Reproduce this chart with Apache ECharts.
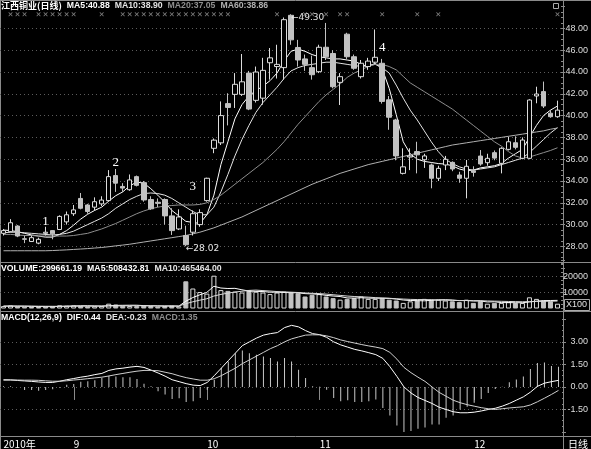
<!DOCTYPE html>
<html>
<head>
<meta charset="utf-8">
<script src="https://cdn.jsdelivr.net/npm/echarts@6/dist/echarts.min.js"></script>
<style>
html,body{margin:0;padding:0;background:#000;overflow:hidden;}
#chart{width:591px;height:449px;}
</style>
</head>
<body>
<div id="chart"></div>
<script>
// ---------------- data ----------------
const dates = ['2010-08-18','2010-08-19','2010-08-20','2010-08-23','2010-08-24','2010-08-25','2010-08-26','2010-08-27','2010-08-30','2010-08-31',
'2010-09-01','2010-09-02','2010-09-03','2010-09-06','2010-09-07','2010-09-08','2010-09-09','2010-09-10','2010-09-13','2010-09-14',
'2010-09-15','2010-09-16','2010-09-17','2010-09-20','2010-09-21','2010-09-27','2010-09-28','2010-09-29','2010-09-30','2010-10-08',
'2010-10-11','2010-10-12','2010-10-13','2010-10-14','2010-10-15','2010-10-18','2010-10-19','2010-10-20','2010-10-21','2010-10-22',
'2010-10-25','2010-10-26','2010-10-27','2010-10-28','2010-10-29','2010-11-01','2010-11-02','2010-11-03','2010-11-04','2010-11-05',
'2010-11-08','2010-11-09','2010-11-10','2010-11-11','2010-11-12','2010-11-15','2010-11-16','2010-11-17','2010-11-18','2010-11-19',
'2010-11-22','2010-11-23','2010-11-24','2010-11-25','2010-11-26','2010-11-29','2010-11-30','2010-12-01','2010-12-02','2010-12-03',
'2010-12-06','2010-12-07','2010-12-08','2010-12-09','2010-12-10','2010-12-13','2010-12-14','2010-12-15','2010-12-16','2010-12-17'];

const opens = [29.2,29.35,29.87,28.7,28.45,28.3,29.2,29.45,29.55,30.25, 31.0,32.4,31.8,31.6,31.9,32.2,34.5,33.5,33.2,34.4,
 33.85,32.3,32.05,32.3,30.8,29.6,29.0,29.3,30.0,32.2, 37.0,37.5,41.1,41.95,41.95,43.9,41.4,41.6,44.85,44.5,
 44.4,49.2,46.25,45.2,44.4,44.03,46.27,45.7,43.05,47.47, 45.4,43.57,44.5,44.9,44.8,41.45,39.6,34.7,36.2,36.7,
 35.95,35.47,34.25,35.47,35.71,34.55,34.25,34.94,36.29,35.68, 36.6,35.62,36.9,37.51,36.08,36.08,41.8,42.2,40.22,39.9];
const closes = [29.45,30.17,28.95,28.65,28.8,28.65,29.3,29.15,30.75,30.9, 31.35,31.5,31.2,32.1,32.25,34.4,33.8,33.35,34.1,33.6,
 32.26,31.45,31.95,30.8,29.45,30.7,28.15,31.0,31.1,34.25, 37.75,40.0,40.75,42.87,43.1,40.6,44.0,44.15,45.3,44.7,
 48.8,46.95,45.1,44.7,43.75,46.27,45.4,42.65,43.57,45.4, 44.34,44.8,45.0,45.35,41.3,39.85,36.3,35.3,36.3,36.4,
 36.3,34.25,35.16,35.99,35.1,34.25,35.35,34.79,35.56,36.08, 36.1,37.0,37.6,37.09,37.76,41.43,41.98,40.88,39.9,40.5];
const lows = [29.0,29.3,28.85,28.3,28.4,28.2,29.0,28.65,29.5,30.0, 30.8,31.4,31.0,31.3,31.7,32.1,33.0,33.0,33.1,33.5,
 32.1,31.35,31.6,30.0,29.05,29.5,28.02,29.0,29.8,32.1, 36.55,37.3,39.1,40.7,41.8,40.5,41.2,41.0,43.3,43.4,
 43.3,46.5,44.5,44.1,43.3,43.9,45.1,42.5,40.97,45.2, 44.2,43.4,44.2,44.7,41.1,38.7,35.9,34.6,35.0,34.7,
 35.2,33.33,34.0,35.0,34.9,33.84,32.41,34.4,35.4,35.4, 35.9,34.7,36.8,36.9,36.0,36.0,41.13,40.7,39.8,39.8];
const highs = [29.6,30.5,29.95,29.0,29.0,28.8,29.8,29.5,30.85,31.2, 31.8,32.9,31.9,32.5,32.6,35.0,35.1,33.8,34.6,34.5,
 34.0,32.6,32.4,32.4,31.5,31.4,29.9,31.3,31.4,34.3, 37.9,41.3,42.05,43.9,45.65,44.1,44.5,45.3,46.2,46.5,
 49.0,49.3,46.95,45.6,45.5,46.5,48.5,46.0,43.9,47.6, 45.6,45.1,45.3,47.9,45.2,41.8,39.7,37.0,37.0,37.6,
 36.5,35.6,35.4,36.3,35.8,34.85,35.93,35.35,36.84,36.5, 36.8,37.1,38.06,38.1,38.0,41.5,42.65,43.12,40.5,41.37];

const ma5 = [29.5,29.45,29.35,29.2,29.05,28.95,28.85,28.85,29.1,29.45, 29.95,30.5,30.95,31.3,31.6,32.15,32.65,33.0,33.55,33.9,
 33.8,33.3,32.7,32.05,31.3,30.8,30.3,30.2,30.1,30.9, 32.7,35.5,37.6,39.7,41.0,41.8,42.3,42.7,43.2,43.9,
 45.0,45.9,46.1,45.9,45.6,45.4,45.3,45.2,45.2,45.1, 45.0,44.7,44.5,44.8,44.3,42.5,40.1,37.6,36.5,36.0,
 35.8,35.7,35.6,35.55,35.4,35.1,34.95,35.0,35.2,35.3, 35.4,35.6,36.1,36.5,36.9,38.0,39.1,40.0,40.5,40.88];
const ma10 = [29.25,29.3,29.3,29.25,29.2,29.15,29.1,29.05,29.1,29.2, 29.4,29.7,30.0,30.3,30.6,31.0,31.5,31.9,32.3,32.6,
 32.85,32.9,32.85,32.7,32.4,32.0,31.6,31.2,30.9,30.9, 31.6,33.0,34.6,36.3,37.8,39.1,40.3,41.2,41.9,42.6,
 43.4,44.1,44.4,44.6,44.7,44.8,44.9,44.9,44.8,44.7, 44.6,44.5,44.6,44.7,44.4,43.9,42.8,41.6,40.5,39.6,
 38.6,37.6,36.7,36.0,35.6,35.3,35.1,35.0,35.1,35.2, 35.3,35.5,35.7,35.9,36.1,36.6,37.2,37.8,38.4,38.9];
const ma20 = [29.1,29.1,29.05,29.0,29.0,28.95,28.95,28.95,28.95,28.95, 29.0,29.1,29.2,29.4,29.6,29.85,30.1,30.4,30.7,31.0,
 31.25,31.45,31.6,31.7,31.75,31.8,31.8,31.8,31.85,32.0, 32.3,32.7,33.2,33.7,34.2,34.7,35.2,35.7,36.3,36.9,
 37.6,38.4,39.2,39.9,40.6,41.3,41.9,42.4,42.9,43.5, 43.9,44.2,44.5,44.7,44.7,44.5,44.2,43.6,43.0,42.6,
 42.2,41.8,41.4,41.0,40.6,40.1,39.6,39.1,38.6,38.1, 37.6,37.2,36.7,36.3,36.1,36.2,36.4,36.6,36.8,37.05];
const ma60 = [27.6,27.6,27.6,27.6,27.6,27.6,27.6,27.62,27.65,27.68, 27.72,27.76,27.8,27.85,27.9,27.97,28.05,28.12,28.2,28.3,
 28.4,28.5,28.6,28.7,28.8,28.9,29.0,29.15,29.3,29.5, 29.7,29.95,30.2,30.45,30.7,31.0,31.3,31.6,31.9,32.2,
 32.5,32.8,33.1,33.4,33.7,33.95,34.2,34.45,34.7,34.9, 35.1,35.3,35.5,35.65,35.8,35.95,36.1,36.25,36.4,36.55,
 36.7,36.85,37.0,37.15,37.3,37.4,37.5,37.6,37.7,37.8, 37.9,38.0,38.1,38.2,38.3,38.4,38.5,38.6,38.75,38.86];

const volumes = [150000,190000,130000,110000,100000,100000,110000,130000,200000,170000,
 190000,150000,130000,140000,150000,300000,250000,170000,160000,150000,
 180000,150000,120000,150000,170000,130000,1700000,1250000,1030000,930000,
 2050000,1150000,1100000,1050000,1000000,1150000,1050000,1000000,900000,1000000,
 1050000,1000000,950000,750000,850000,900000,750000,650000,550000,600000,
 650000,750000,600000,600000,650000,550000,500000,350000,450000,500000,
 600000,550000,550000,500000,450000,400000,550000,350000,450000,300000,
 350000,350000,400000,350000,350000,700000,600000,500000,450000,299661.19];
const volMa5 = [150000,155000,150000,145000,135000,125000,120000,115000,130000,145000,
 160000,170000,170000,160000,150000,175000,195000,200000,205000,205000,
 180000,165000,155000,150000,155000,145000,455000,685000,855000,1010000,
 1390000,1280000,1250000,1260000,1170000,1090000,1070000,1060000,1020000,1020000,
 1000000,990000,980000,930000,910000,890000,820000,780000,750000,660000,
 650000,670000,650000,640000,650000,630000,590000,530000,500000,490000,
 480000,510000,540000,550000,530000,490000,500000,470000,470000,410000,
 420000,370000,370000,360000,360000,410000,460000,490000,500000,508432.81];
const volMa10 = [145000,147000,148000,148000,146000,143000,140000,138000,137000,140000,
 142000,146000,148000,150000,152000,155000,160000,165000,168000,170000,
 172000,170000,168000,165000,162000,158000,300000,420000,520000,610000,
 780000,880000,960000,1030000,1080000,1130000,1150000,1120000,1090000,1060000,
 1040000,1020000,1000000,970000,950000,930000,900000,860000,820000,780000,
 750000,730000,710000,680000,650000,640000,610000,590000,570000,560000,
 560000,550000,530000,520000,510000,500000,500000,490000,490000,470000,
 460000,450000,440000,430000,420000,430000,440000,450000,455000,465464.00];

const dif = [0.48,0.47,0.43,0.4,0.37,0.33,0.3,0.3,0.38,0.48, 0.56,0.65,0.72,0.82,0.9,1.1,1.2,1.25,1.32,1.37,
 1.3,1.12,0.93,0.72,0.48,0.35,0.22,0.12,0.09,0.3, 0.75,1.25,1.75,2.25,2.75,3.0,3.25,3.45,3.55,3.62,
 3.95,4.1,4.0,3.75,3.55,3.48,3.3,3.0,2.8,2.65, 2.5,2.4,2.28,2.15,1.9,1.35,0.7,0.0,-0.4,-0.7,
 -0.9,-1.1,-1.35,-1.5,-1.65,-1.72,-1.72,-1.68,-1.6,-1.5, -1.42,-1.28,-1.1,-0.88,-0.66,-0.35,0.04,0.25,0.35,0.44];
const dea = [0.45,0.46,0.46,0.45,0.45,0.44,0.41,0.38,0.38,0.41, 0.46,0.5,0.55,0.6,0.65,0.73,0.82,0.9,0.98,1.05,
 1.1,1.1,1.08,0.98,0.88,0.74,0.62,0.53,0.45,0.45, 0.55,0.75,1.0,1.25,1.55,1.8,2.05,2.3,2.55,2.75,
 3.0,3.2,3.33,3.45,3.47,3.47,3.4,3.28,3.13,3.02, 2.92,2.82,2.73,2.65,2.55,2.3,1.85,1.3,0.95,0.65,
 0.37,0.0,-0.36,-0.62,-0.88,-1.05,-1.18,-1.28,-1.38,-1.45, -1.5,-1.45,-1.4,-1.36,-1.32,-1.2,-0.99,-0.75,-0.5,-0.23];
const macdHist = [0.05,0.05,0.0,-0.2,-0.2,-0.25,-0.2,-0.15,-0.05,0.15, 0.2,0.35,0.38,0.45,0.6,0.75,0.7,0.65,0.65,0.53,
 0.22,0.05,-0.29,-0.5,-0.8,-0.75,-1.0,-0.95,-0.73,-0.18, 0.48,1.26,1.7,2.25,2.43,2.25,2.14,2.03,1.92,1.7,
 1.92,1.7,1.15,0.6,0.05,0.02,-0.18,-0.73,-0.95,-0.88, -1.0,-1.0,-0.95,-0.84,-1.4,-1.9,-2.56,-3.0,-2.94,-2.78,
 -2.7,-2.5,-2.5,-2.05,-1.9,-1.5,-1.32,-1.06,-0.8,-0.4, -0.13,0.02,0.31,0.49,0.7,1.2,1.6,1.63,1.4,1.35];

// signal marks (trading-day indices) drawn on the top row of the price panel
const signalDays = [1,2,3,5,6,7,8,9,10,14,17,18,19,20,21,22,23,24,25,26,27,28,29,30,31,32,39,43,44,46,48,49,54,59,62,79];
const signalLevel = 49.3;
// wave annotations: [day index, price, text]
const waveLabels = [[6, 30.3, '1'], [16, 35.7, '2'], [27, 33.5, '3'], [54, 46.2, '4']];

const priceTicks = {min: 26, max: 50, step: 2};
const volTicks = {min: 0, max: 3000000, step: 1000000};
const macdTicks = {min: -3, max: 4.5, step: 1.5};

// ---------------- style ----------------
const FONT = '"Liberation Sans", Arial, sans-serif';
const CJK = '"Noto Sans CJK SC", "Liberation Sans", sans-serif';
const FRAME = '#8a8a8a';
const GRIDC = '#5c5c5c';
const UP = '#dcdcdc';
const DOWN = '#c2c2c2';
const COL = {ma5:'#ffffff', ma10:'#e4e4e4', ma20:'#8e8e8e', ma60:'#b0b0b0'};
const PLOT_W = 563;
const HF = 8.7;

const last = a => a[a.length - 1];
const monthStart = dates.map((d, i) => i === 0 || d.slice(5, 7) !== dates[i - 1].slice(5, 7));

let hiIdx = 0, loIdx = 0;
highs.forEach((v, i) => { if (v > highs[hiIdx]) hiIdx = i; });
lows.forEach((v, i) => { if (v < lows[loIdx]) loIdx = i; });

const candleData = dates.map((d, i) => [opens[i], closes[i], lows[i], highs[i]]);
const volData = volumes.map((v, i) => ({
  value: v,
  itemStyle: closes[i] >= opens[i]
    ? {color: '#000', borderColor: UP, borderWidth: 1}
    : {color: DOWN, borderColor: DOWN, borderWidth: 1}
}));

function yAxisCommon(grid, t, fmt, margin) {
  return {
    type: 'value', gridIndex: grid, position: 'right',
    min: t.min, max: t.max, interval: t.step,
    axisLine: {show: false},
    axisTick: {show: true, length: 4, lineStyle: {color: FRAME}},
    minorTick: {show: true, splitNumber: 4, length: 2, lineStyle: {color: FRAME}},
    axisLabel: {show: true, formatter: fmt, showMinLabel: false, showMaxLabel: false,
      align: 'right', margin: margin, fontSize: 9, color: '#dedede', fontFamily: FONT},
    splitLine: {show: true, showMinLine: false, showMaxLine: false,
      lineStyle: {color: GRIDC, type: [1, 3], width: 1}},
    minorSplitLine: {show: false}
  };
}

function hiddenX(grid) {
  return {type: 'category', gridIndex: grid, data: dates, boundaryGap: true,
    axisLine: {show: false}, axisTick: {show: false}, axisLabel: {show: false}, splitLine: {show: false}};
}

function lineSeries(name, data, color, xi, yi) {
  return {name: name, type: 'line', data: data, xAxisIndex: xi, yAxisIndex: yi,
    showSymbol: false, symbol: 'none', smooth: false,
    lineStyle: {color: color, width: 1}, z: 3, silent: true};
}

const xPath = 'path://M0,0L1.5,0L5,3.5L8.5,0L10,0L10,1.5L6.5,5L10,8.5L10,10L8.5,10L5,6.5L1.5,10L0,10L0,8.5L3.5,5L0,1.5Z';

const option = {
  animation: false,
  backgroundColor: '#000',
  textStyle: {fontFamily: FONT},
  title: [
    {left: 1, top: 0, padding: 0, z: 1,
     text: '{c|江西铜业(日线)} {w|MA5:' + last(ma5).toFixed(2) + '} {a|MA10:' + last(ma10).toFixed(2) + '} {b|MA20:' + last(ma20).toFixed(2) + '} {d|MA60:' + last(ma60).toFixed(2) + '}',
     textStyle: {lineHeight: 11, rich: {
       c: {fontFamily: CJK, fontSize: 9, color: '#ffffff', lineHeight: 11},
       w: {fontFamily: FONT, fontSize: HF, color: COL.ma5, lineHeight: 11},
       a: {fontFamily: FONT, fontSize: HF, color: COL.ma10, lineHeight: 11},
       b: {fontFamily: FONT, fontSize: HF, color: COL.ma20, lineHeight: 11},
       d: {fontFamily: FONT, fontSize: HF, color: COL.ma60, lineHeight: 11}}}},
    {left: 1, top: 263, padding: 0, z: 1,
     text: '{w|VOLUME:' + last(volumes).toFixed(2) + '} {w|MA5:' + last(volMa5).toFixed(2) + '} {a|MA10:' + last(volMa10).toFixed(2) + '}',
     textStyle: {lineHeight: 11, rich: {
       w: {fontFamily: FONT, fontSize: HF, color: '#ffffff', lineHeight: 11},
       a: {fontFamily: FONT, fontSize: HF, color: '#e4e4e4', lineHeight: 11}}}},
    {left: 1, top: 312, padding: 0, z: 1,
     text: '{w|MACD(12,26,9)} {w|DIF:' + last(dif).toFixed(2) + '} {a|DEA:' + last(dea).toFixed(2) + '} {b|MACD:' + last(macdHist).toFixed(2) + '}',
     textStyle: {lineHeight: 11, rich: {
       w: {fontFamily: FONT, fontSize: HF, color: '#ffffff', lineHeight: 11},
       a: {fontFamily: FONT, fontSize: HF, color: '#e4e4e4', lineHeight: 11},
       b: {fontFamily: FONT, fontSize: HF, color: '#8e8e8e', lineHeight: 11}}}}
  ],
  grid: [
    {left: 0, top: 6.6, width: PLOT_W, height: 261.6},
    {left: 0, top: 260.5, width: PLOT_W, height: 48},
    {left: 0, top: 319.35, width: PLOT_W, height: 113.25}
  ],
  xAxis: [
    hiddenX(0), hiddenX(1),
    {type: 'category', gridIndex: 2, data: dates, boundaryGap: true, offset: 4,
     axisLine: {show: false},
     axisTick: {show: true, alignWithLabel: true, length: 13,
       interval: (i) => monthStart[i] && i > 0, lineStyle: {color: FRAME}},
     axisLabel: {show: true, interval: (i) => monthStart[i],
       formatter: (v, i) => i === 0 ? v.slice(0, 4) + '年' : String(parseInt(v.slice(5, 7), 10)),
       align: 'left', margin: 3, fontSize: 10, color: '#ffffff', fontFamily: CJK},
     splitLine: {show: false}}
  ],
  yAxis: [
    yAxisCommon(0, priceTicks, v => v.toFixed(2), 27),
    yAxisCommon(1, volTicks, v => String(Math.round(v / 100)), 27),
    yAxisCommon(2, macdTicks, v => v.toFixed(2), 26)
  ],
  series: [
    {type: 'candlestick', name: 'K', data: candleData, xAxisIndex: 0, yAxisIndex: 0,
     barWidth: 5, z: 4,
     itemStyle: {color: '#000000', color0: DOWN, borderColor: UP, borderColor0: DOWN, borderWidth: 1},
     markPoint: {
       symbol: 'circle', symbolSize: 0, silent: true, animation: false,
       data: [
         {coord: [dates[hiIdx], highs[hiIdx]], label: {show: true, position: 'right', distance: 0, offset: [0, 3],
           formatter: '←' + highs[hiIdx].toFixed(2), color: '#e6e6e6', fontSize: 9, fontFamily: '"DejaVu Sans", sans-serif'}},
         {coord: [dates[loIdx], lows[loIdx]], label: {show: true, position: 'right', distance: 0, offset: [0, 2],
           formatter: '←' + lows[loIdx].toFixed(2), color: '#e6e6e6', fontSize: 9, fontFamily: '"DejaVu Sans", sans-serif'}}
       ].concat(waveLabels.map(w => ({coord: [dates[w[0]], w[1]],
         label: {show: true, position: 'inside', formatter: w[2], color: '#ffffff', fontSize: 13,
           fontFamily: '"Liberation Serif", "DejaVu Serif", serif'}})))
     }},
    lineSeries('MA5', ma5, COL.ma5, 0, 0),
    lineSeries('MA10', ma10, COL.ma10, 0, 0),
    lineSeries('MA20', ma20, COL.ma20, 0, 0),
    lineSeries('MA60', ma60, COL.ma60, 0, 0),
    {type: 'scatter', name: 'signal', xAxisIndex: 0, yAxisIndex: 0,
     data: signalDays.map(i => [i, signalLevel]),
     symbol: xPath, symbolSize: 4, itemStyle: {color: '#a0a0a0'}, silent: true, z: 20, clip: false},
    {type: 'bar', name: 'VOL', data: volData, xAxisIndex: 1, yAxisIndex: 1, barWidth: 5, z: 2},
    lineSeries('VMA5', volMa5, '#ffffff', 1, 1),
    lineSeries('VMA10', volMa10, '#d8d8d8', 1, 1),
    {type: 'bar', name: 'MACD', data: macdHist, xAxisIndex: 2, yAxisIndex: 2, barWidth: 1,
     itemStyle: {color: '#c8c8c8'}, z: 2},
    lineSeries('DIF', dif, '#ffffff', 2, 2),
    lineSeries('DEA', dea, '#cfcfcf', 2, 2)
  ],
  graphic: [
    {type: 'line', shape: {x1: 0, y1: 0.5, x2: 591, y2: 0.5}, style: {stroke: FRAME, lineWidth: 1}, silent: true},
    {type: 'line', shape: {x1: 0.5, y1: 0, x2: 0.5, y2: 449}, style: {stroke: FRAME, lineWidth: 1}, silent: true},
    {type: 'line', shape: {x1: 0, y1: 262.5, x2: 591, y2: 262.5}, style: {stroke: FRAME, lineWidth: 1}, silent: true},
    {type: 'line', shape: {x1: 0, y1: 311.5, x2: 591, y2: 311.5}, style: {stroke: FRAME, lineWidth: 1}, silent: true},
    {type: 'line', shape: {x1: 0, y1: 436.5, x2: 591, y2: 436.5}, style: {stroke: FRAME, lineWidth: 1}, silent: true},
    {type: 'line', shape: {x1: 563.5, y1: 0, x2: 563.5, y2: 449}, style: {stroke: FRAME, lineWidth: 1}, silent: true},
    {type: 'rect', shape: {x: 553.5, y: 3.5, width: 5, height: 5}, style: {stroke: '#aaaaaa', fill: null, lineWidth: 1}, silent: true},
    {type: 'rect', shape: {x: 564.5, y: 299.5, width: 25, height: 11}, style: {stroke: '#aaaaaa', fill: null, lineWidth: 1}, silent: true},
    {type: 'text', x: 566, y: 300.5, style: {text: 'X100', fill: '#e0e0e0', font: '9px "Liberation Sans", Arial, sans-serif'}, silent: true},
    {type: 'text', x: 568, y: 439, style: {text: '日线', fill: '#ffffff', font: '10px "Noto Sans CJK SC", sans-serif'}, silent: true}
  ]
};

const chart = echarts.init(document.getElementById('chart'), null, {renderer: 'canvas', width: 591, height: 449});
chart.setOption(option);
</script>
</body>
</html>
